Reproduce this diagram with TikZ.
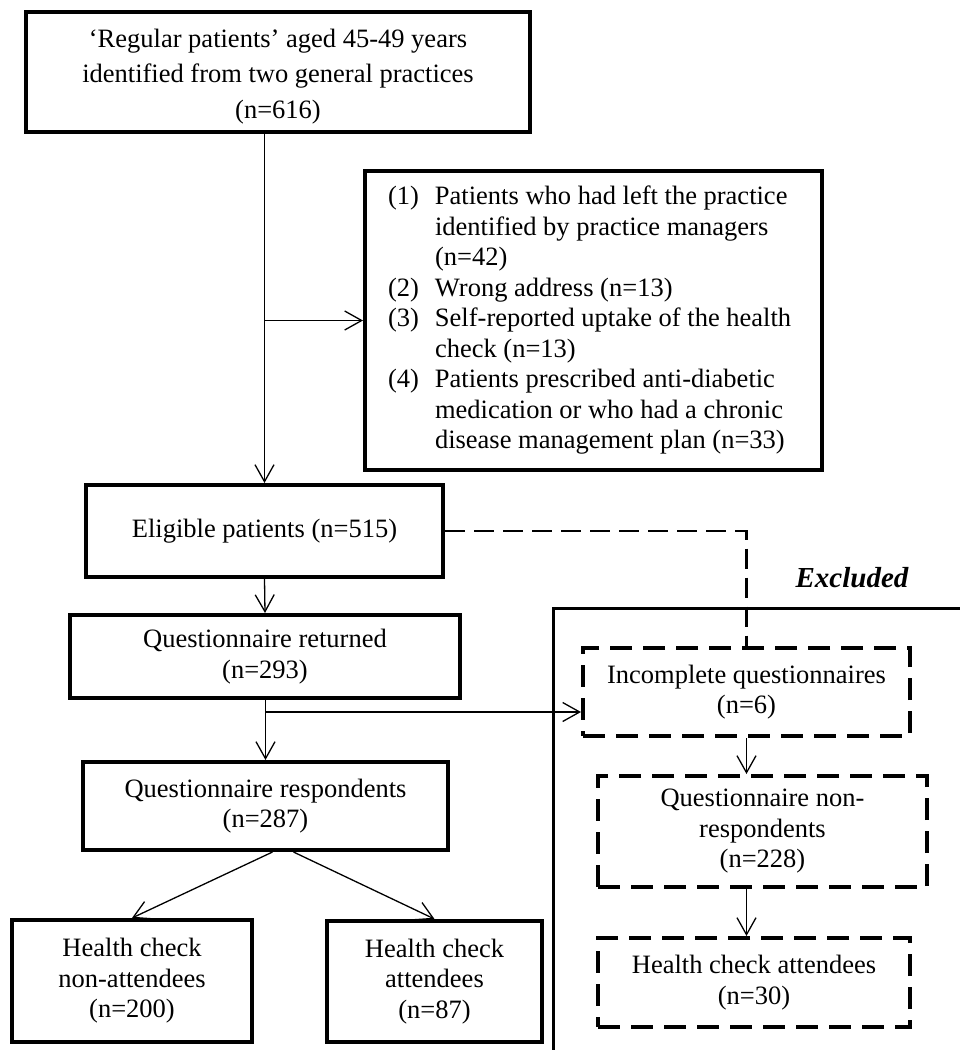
\documentclass[tikz,border=0pt]{standalone}
\usepackage{fontspec}
\setmainfont{Liberation Serif}
\usetikzlibrary{arrows.meta,calc}
\begin{document}
\begin{tikzpicture}[x=1pt,y=-1pt,
  box/.style={draw, line width=4pt, rectangle, inner sep=0pt, align=center,
              font=\fontsize{26.5}{30.5}\selectfont},
  dbox/.style={box, dash pattern=on 22pt off 11pt},
  arr/.style={line width=1.3pt, -{Straight Barb[length=17pt,width=19pt]}},
  dlink/.style={line width=2.5pt, dash pattern=on 20pt off 9pt},
  frame/.style={line width=3pt},
]
\useasboundingbox (0,0) rectangle (959,1050);

% main stream
\node[box, minimum width=504pt, minimum height=120pt,
      font=\fontsize{26.5}{35.5}\selectfont] (top) at (278,72)
  {\rule{0pt}{27pt}‘Regular patients’ aged 45-49 years\\identified from two general practices\\(n=616)};

\node[box, minimum width=457pt, minimum height=299pt, inner xsep=23pt] (excl) at (593.5,320.5)
  {\begin{tabular}{@{}p{47pt}@{}p{364pt}@{}}
   (1) & Patients who had left the practice\\
       & identified by practice managers\\
       & (n=42)\\
   (2) & Wrong address (n=13)\\
   (3) & Self-reported uptake of the health\\
       & check (n=13)\\
   (4) & Patients prescribed anti-diabetic\\
       & medication or who had a chronic\\
       & disease management plan (n=33)
   \end{tabular}};

\node[box, minimum width=357pt, minimum height=92pt] (elig) at (264.5,531) {Eligible patients (n=515)};
\node[box, minimum width=390pt, minimum height=83pt] (qr) at (265,656.5) {Questionnaire returned\\(n=293)};
\node[box, minimum width=365pt, minimum height=88pt] (resp) at (265.5,806) {Questionnaire respondents\\(n=287)};
\node[box, minimum width=240pt, minimum height=122pt] (hcn) at (132,981) {Health check\\non-attendees\\(n=200)};
\node[box, minimum width=215pt, minimum height=121pt] (hca) at (434.5,981.5) {Health check\\attendees\\(n=87)};

% excluded side
\coordinate (fc) at (553,608);
\draw[frame] (965,608) -- (fc) -- (553,1060);
\node[font=\fontsize{29}{34}\selectfont\bfseries\itshape] (exlabel) at (852,578) {Excluded};

\node[dbox, minimum width=327pt, minimum height=88pt] (inc) at (746.5,692) {Incomplete questionnaires\\(n=6)};
\node[dbox, minimum width=329pt, minimum height=111pt] (nr) at (762.5,831.5) {Questionnaire non-\\respondents\\(n=228)};
\node[dbox, minimum width=312pt, minimum height=89pt] (hcatt) at (754,982.5) {Health check attendees\\(n=30)};

% connectors
\draw[arr] (elig.north |- top.south) -- (elig.north);
\draw[arr] (elig.north |- excl.west) -- (excl.west);
\draw[arr] (elig.south) -- (qr.north);
\draw[arr] (resp.north |- qr.south) -- (resp.north);
\coordinate (split) at ([yshift=-12pt]resp.north |- qr.south);
\draw[arr] (split) -- (split -| inc.west);
\draw[arr] ([xshift=7pt]resp.south) -- (hcn.north);
\draw[arr] ([xshift=28pt]resp.south) -- (hca.north);
\draw[dlink] (elig.east) -| (inc.north);
\draw[arr] (inc.south) -- (inc.south |- nr.north);
\draw[arr] (inc.south |- nr.south) -- (inc.south |- hcatt.north);
\end{tikzpicture}
\end{document}
